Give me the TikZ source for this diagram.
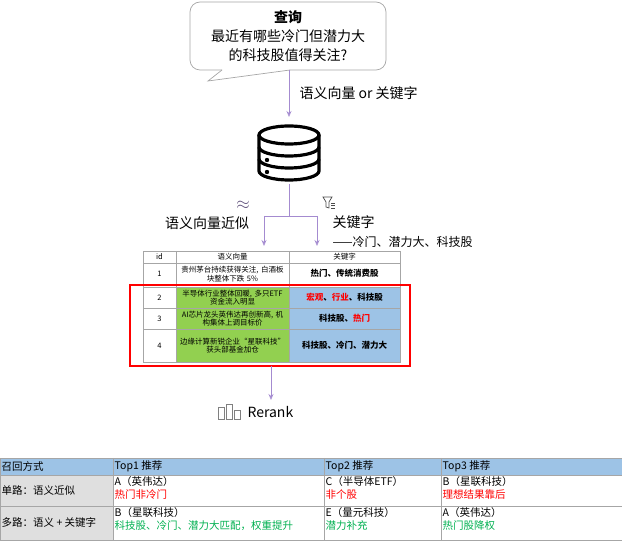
\documentclass[tikz,border=0pt]{standalone}
\usepackage{fontspec}
\setmainfont{Noto Sans CJK SC}
\newfontfamily\cjk{Noto Sans CJK SC}
\usetikzlibrary{arrows.meta}
\definecolor{gr}{HTML}{92D050}
\definecolor{bl}{HTML}{9DC3E6}
\definecolor{pu}{HTML}{A48BD0}
\definecolor{rd}{HTML}{FF0000}
\definecolor{gn}{HTML}{00B050}
\begin{document}
\begin{tikzpicture}[x=1pt,y=-1pt,
  arr/.style={pu,line width=0.8pt,-{Stealth[length=6pt,width=5pt,open]}},
  st/.style={font=\fontsize{7.5}{8.5}\selectfont,align=center,text width=#1},
  bt/.style={font=\fontsize{10.5}{13}\selectfont,anchor=north west,align=left,inner sep=1.5pt}]
\useasboundingbox (0,0) rectangle (622,545);
% bubble
\draw[gray!70,fill=white,line width=0.7pt,rounded corners=10pt] (290,70) -- (386,70) -- (386,2) -- (190,2) -- (190,70) -- (222,70);
\draw[gray!70,line width=0.7pt] (222,70) -- (208,81) -- (290,70);
\node[font=\fontsize{14}{19}\selectfont,align=center] (q) at (288,36) {\textbf{查询}\\最近有哪些冷门但潜力大\\的科技股值得关注?};
% db
\coordinate (qb) at (289,70);
\coordinate (dbt) at (289,117);
\draw[arr] (qb) -- (dbt);
\node[font=\fontsize{14}{16}\selectfont,anchor=west] (l1) at (296,93) {语义向量 or 关键字};
\begin{scope}[line width=3.2pt]
\draw (259,135) -- (259,171) arc[start angle=180,end angle=0,x radius=30,y radius=9] -- (319,135);
\draw (289,135) ellipse[x radius=30,y radius=9];
\draw (259,147) arc[start angle=180,end angle=0,x radius=30,y radius=9];
\draw (259,159) arc[start angle=180,end angle=0,x radius=30,y radius=9];
\fill (267,160) circle (2.2); \fill (267,172) circle (2.2);
\end{scope}
\coordinate (dbb) at (289,184);
\coordinate (sp) at (289,216);
\coordinate (sl) at (264,216);
\coordinate (sr) at (317,216);
\coordinate (tl) at (264,246);
\coordinate (tr) at (317,246);
\draw[pu,line width=0.8pt] (dbb) -- (sp) (sl) -- (sr);
\draw[arr] (sl) -- (tl);
\draw[arr] (sr) -- (tr);
\node[font=\fontsize{18}{18}\selectfont,text=pu!60!black] (ap) at (243,205) {$\approx$};
\node[font=\fontsize{14}{16}\selectfont] (l2) at (207,223) {语义向量近似};
\draw[gray!60!black,line width=0.7pt] (323,197) -- (332,197) -- (329,202) -- (329,208) -- (326,207) -- (326,202) -- cycle;
\draw[gray!60!black,line width=0.5pt] (331,203)--(335,203) (331,205.5)--(335,205.5) (331,208)--(335,208);
\node[font=\fontsize{14}{16}\selectfont,anchor=west] (l3) at (329,222) {关键字};
\node[font=\fontsize{12}{14}\selectfont,anchor=west] (l4) at (329,242) {——冷门、潜力大、科技股};
% table
\fill[gr] (176,287) rectangle (289,362);
\fill[bl] (289,287) rectangle (400,362);
\draw[gray!70,line width=0.5pt] (143,251) rectangle (400,362);
\foreach \y in {263,284,287,308,329} \draw[gray!70,line width=0.5pt] (143,\y) -- (400,\y);
\foreach \x in {176,289} \draw[gray!70,line width=0.5pt] (\x,251) -- (\x,362);
\node[st=30pt] (h0) at (159.5,257) {id};
\node[st=110pt] (h1) at (232.5,257) {语义向量};
\node[st=110pt] (h2) at (344.5,257) {关键字};
\node[st=30pt] (r1a) at (159.5,273.5) {1};
\node[st=112pt] (r1b) at (232.5,274) {贵州茅台持续获得关注, 白酒板\\块整体下跌 5\%};
\node[st=110pt,font=\fontsize{8.5}{10}\selectfont\bfseries] (r1c) at (344.5,273.5) {热门、传统消费股};
\node[st=30pt] (r2a) at (159.5,297.5) {2};
\node[st=112pt] (r2b) at (232.5,297.5) {半导体行业整体回暖, 多只ETF\\资金流入明显};
\node[st=110pt,font=\fontsize{8.5}{10}\selectfont\bfseries] (r2c) at (344.5,297.5) {\textcolor{rd}{宏观}、\textcolor{rd}{行业}、科技股};
\node[st=30pt] (r3a) at (159.5,318.5) {3};
\node[st=112pt] (r3b) at (232.5,318.5) {AI芯片龙头英伟达再创新高, 机\\构集体上调目标价};
\node[st=110pt,font=\fontsize{8.5}{10}\selectfont\bfseries] (r3c) at (344.5,318.5) {科技股、\textcolor{rd}{热门}};
\node[st=30pt] (r4a) at (159.5,345.5) {4};
\node[st=112pt] (r4b) at (232.5,345.5) {边缘计算新锐企业“星联科技”\\获头部基金加仓};
\node[st=110pt,font=\fontsize{8.5}{10}\selectfont\bfseries] (r4c) at (344.5,345.5) {科技股、冷门、潜力大};
\draw[rd,line width=2pt] (130,285) rectangle (410,366);
% rerank
\coordinate (ra) at (271,366);
\coordinate (rb) at (271,400);
\draw[arr] (ra) -- (rb);
\draw[gray,line width=0.6pt] (218,407) rectangle (224,419) (226,404) rectangle (232,419) (234,410) rectangle (240,419);
\node[font=\fontsize{14}{16}\selectfont,anchor=west] (rr) at (244,412) {Rerank};
% bottom table
\fill[bl] (0,458) rectangle (622,475);
\fill[gray!25] (0,475) rectangle (113,540);
\draw[gray!70,line width=0.6pt] (0,458) rectangle (622,540);
\foreach \y in {475,506} \draw[gray!70,line width=0.6pt] (0,\y) -- (622,\y);
\foreach \x in {113,324,441} \draw[gray!70,line width=0.6pt] (\x,458) -- (\x,540);
\node[bt,anchor=west] (b00) at (0,466.5) {召回方式};
\node[bt,anchor=west] (b01) at (113,466.5) {Top1 推荐};
\node[bt,anchor=west] (b02) at (324,466.5) {Top2 推荐};
\node[bt,anchor=west] (b03) at (441,466.5) {Top3 推荐};
\node[bt,anchor=west] (b10) at (0,490.5) {单路：语义近似};
\node[bt] (b11) at (113,475) {A（英伟达）\\\textcolor{rd}{热门非冷门}};
\node[bt] (b12) at (324,475) {C（半导体ETF）\\\textcolor{rd}{非个股}};
\node[bt] (b13) at (441,475) {B（星联科技）\\\textcolor{rd}{理想结果靠后}};
\node[bt,anchor=west] (b20) at (0,523) {多路：语义 + 关键字};
\node[bt] (b21) at (113,506) {B（星联科技）\\\textcolor{gn}{科技股、冷门、潜力大匹配，权重提升}};
\node[bt] (b22) at (324,506) {E（量元科技）\\\textcolor{gn}{潜力补充}};
\node[bt] (b23) at (441,506) {A（英伟达）\\\textcolor{gn}{热门股降权}};
\end{tikzpicture}
\end{document}
